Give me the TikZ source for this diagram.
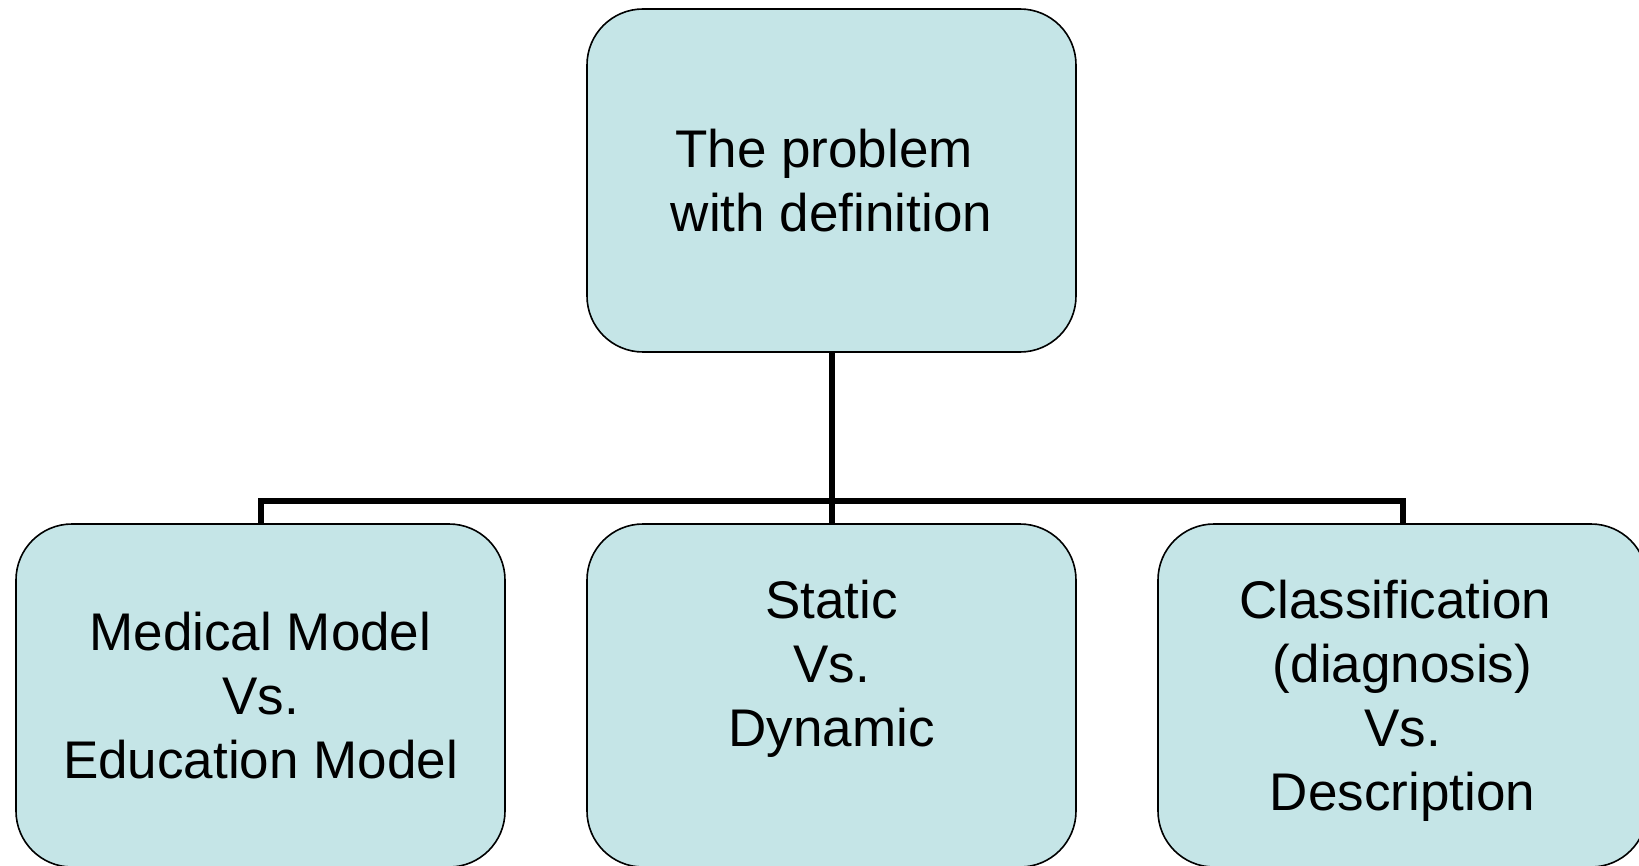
\documentclass[tikz,border=0pt]{standalone}
\usepackage{fontspec}
\setmainfont{Liberation Sans}
\definecolor{boxfill}{RGB}{197,229,231}
\tikzset{
  topicbox/.style={draw=black, line width=0.8pt, fill=boxfill, rounded corners=28pt,
    minimum width=244.5pt, minimum height=171.5pt, inner sep=0pt, text depth=0pt,
    align=center, font=\fontsize{26.5pt}{32pt}\selectfont},
  conn/.style={draw=black, line width=3pt}
}
\begin{document}
\begin{tikzpicture}[x=0.5pt,y=-0.5pt]
\useasboundingbox (0,0) rectangle (1639,866);
\clip (0,0) rectangle (1639,866);
\fill[white] (0,0) rectangle (1639,866);
\node[topicbox] (t) at (831.5,180.5) {The problem\ \mbox{}\\with definition};
\node[topicbox] (l) at (260.5,695.5) {Medical Model\\Vs.\\Education Model};
\node[topicbox] (m) at (831.5,695.5) {Static\\Vs.\\Dynamic\\\mbox{}};
\node[topicbox] (r) at (1402.5,695.5) {Classification\ \mbox{}\\(diagnosis)\\Vs.\\Description};
\draw[conn] (t.south) -- (m.north);
\draw[conn] (l.north) -- ++(0,-22) -| (r.north);
\end{tikzpicture}
\end{document}
